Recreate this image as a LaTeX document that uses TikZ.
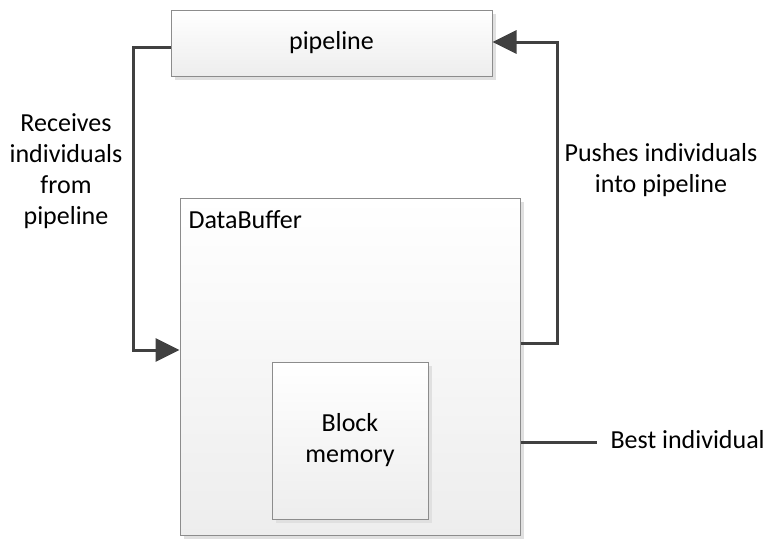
\documentclass[tikz,border=0pt]{standalone}
\usepackage{fontspec}
\setmainfont{Carlito}
\usetikzlibrary{arrows.meta,shadows}

\begin{document}
\begin{tikzpicture}[x=1pt,y=-1pt,
    font=\fontsize{26}{31}\selectfont,
    block/.style={draw=black!45,line width=1pt,top color=white,bottom color=black!7,
      drop shadow={shadow xshift=4pt,shadow yshift=-4pt,fill=black!12,opacity=1},
      inner sep=0pt},
    link/.style={draw=black!75,line width=3pt},
    tip/.style={-{Triangle[length=24pt,width=23pt]}}]
  \useasboundingbox (0,0) rectangle (770,538);
  \draw
    (331.5,43) node[block,minimum width=321pt,minimum height=66pt] (pipe){pipeline}
    (350,366.5) node[block,minimum width=340pt,minimum height=337pt] (buf){}
    (350,440.5) node[block,minimum width=156pt,minimum height=157pt,align=center] (mem){Block\\memory};
  \node[anchor=west] (bufname) at (185,220) {DataBuffer};
  \coordinate (out) at (597,442);
  \node[anchor=west] (best) at (607,440) {Best individual};
  \node[align=center] (recv) at (66,171) {Receives\\individuals\\from\\pipeline};
  \node[align=center] (push) at (661,170) {Pushes individuals\\into pipeline};
  \begin{scope}[link]
    \draw[tip] ([yshift=-4]pipe.west) -| (133,350) -- (buf.west |- 0,350);
    \draw[tip] ([yshift=23.5]buf.east) -| (557,42) -- (pipe.east |- 0,42);
    \draw (buf.east |- out) -- (out);
  \end{scope}
\end{tikzpicture}
\end{document}
